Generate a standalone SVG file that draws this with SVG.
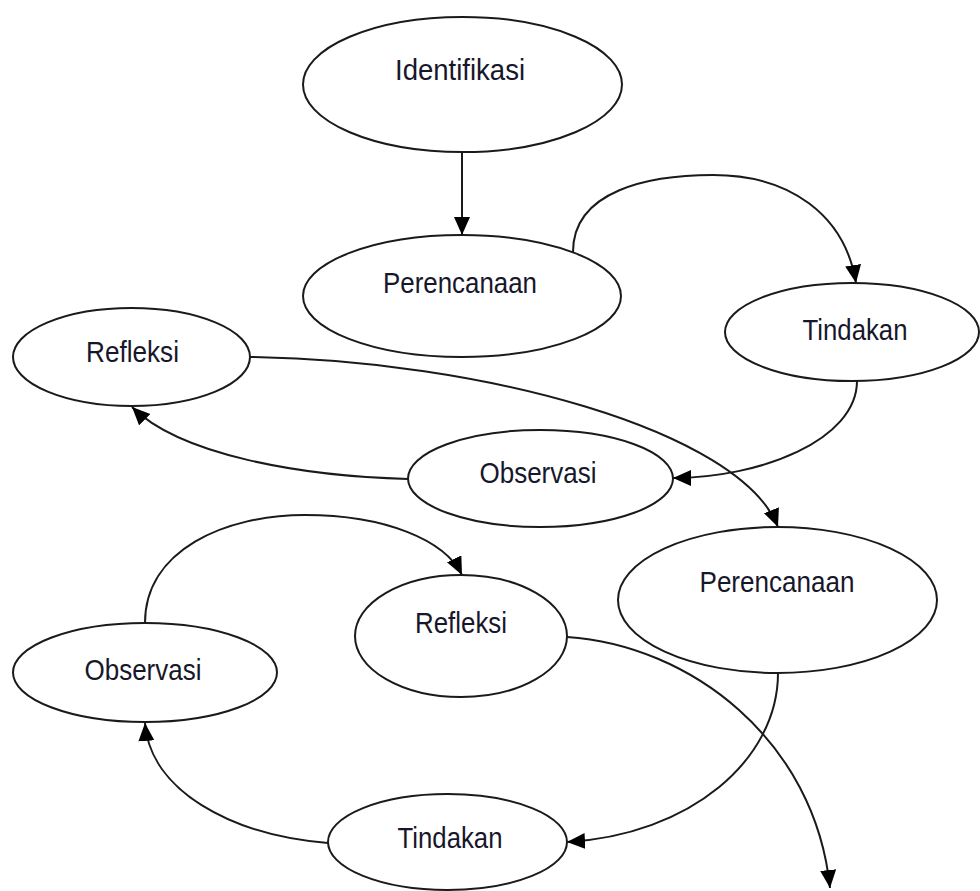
<svg xmlns="http://www.w3.org/2000/svg" width="980" height="891" viewBox="0 0 980 891">
<style>
.node ellipse{fill:#fff;stroke:#1a1a1a;stroke-width:2}
.node text{font-family:"Liberation Sans",Arial,sans-serif;font-size:29px;fill:#17172c;text-anchor:middle}
.conn path{fill:none;stroke:#1a1a1a;stroke-width:2;marker-end:url(#arr)}
</style>
<defs>
<marker id="arr" markerUnits="userSpaceOnUse" markerWidth="20" markerHeight="18" refX="18" refY="8" orient="auto" viewBox="0 0 20 18">
<path d="M0,0 L18,8 L0,16 z" fill="#000"/>
</marker>
</defs>
<rect width="980" height="891" fill="#fff"/>
<g id="connectors" class="conn">
<path d="M462,152 L462,235"/>
<path d="M573,252 C573,190 650,175 713,175 C790,175 845,215 856,283"/>
<path d="M857,381 C857,440 760,478 673,478"/>
<path d="M408,479 C300,476 180,455 132,407"/>
<path d="M250,357 C480,360 740,430 778,527"/>
<path d="M778,673 C778,760 690,835 567,842"/>
<path d="M328,843 C230,835 150,790 145,723"/>
<path d="M145,623 C145,550 225,515 305,515 C385,515 445,540 462,575"/>
<path d="M567,637 C690,645 815,740 830,888"/>
</g>
<g id="identifikasi" class="node"><ellipse cx="462.5" cy="84.5" rx="159.5" ry="67.5"/><text x="460" y="80" textLength="130" lengthAdjust="spacingAndGlyphs">Identifikasi</text></g>
<g id="perencanaan1" class="node"><ellipse cx="462" cy="296" rx="159" ry="61"/><text x="460" y="293" textLength="154" lengthAdjust="spacingAndGlyphs">Perencanaan</text></g>
<g id="tindakan1" class="node"><ellipse cx="852" cy="332" rx="127" ry="49"/><text x="855" y="340" textLength="105" lengthAdjust="spacingAndGlyphs">Tindakan</text></g>
<g id="refleksi1" class="node"><ellipse cx="131.5" cy="357" rx="118.5" ry="49"/><text x="132.5" y="362" textLength="93" lengthAdjust="spacingAndGlyphs">Refleksi</text></g>
<g id="observasi1" class="node"><ellipse cx="540.5" cy="478.5" rx="132.5" ry="48.5"/><text x="538" y="483" textLength="117" lengthAdjust="spacingAndGlyphs">Observasi</text></g>
<g id="perencanaan2" class="node"><ellipse cx="777.5" cy="600" rx="159.5" ry="73"/><text x="777" y="592" textLength="155" lengthAdjust="spacingAndGlyphs">Perencanaan</text></g>
<g id="refleksi2" class="node"><ellipse cx="461" cy="636" rx="106" ry="61"/><text x="461" y="633" textLength="92" lengthAdjust="spacingAndGlyphs">Refleksi</text></g>
<g id="observasi2" class="node"><ellipse cx="145" cy="672.5" rx="132" ry="49.5"/><text x="143" y="680" textLength="117" lengthAdjust="spacingAndGlyphs">Observasi</text></g>
<g id="tindakan2" class="node"><ellipse cx="447.5" cy="842" rx="119.5" ry="48"/><text x="450" y="848" textLength="105" lengthAdjust="spacingAndGlyphs">Tindakan</text></g>
</svg>
